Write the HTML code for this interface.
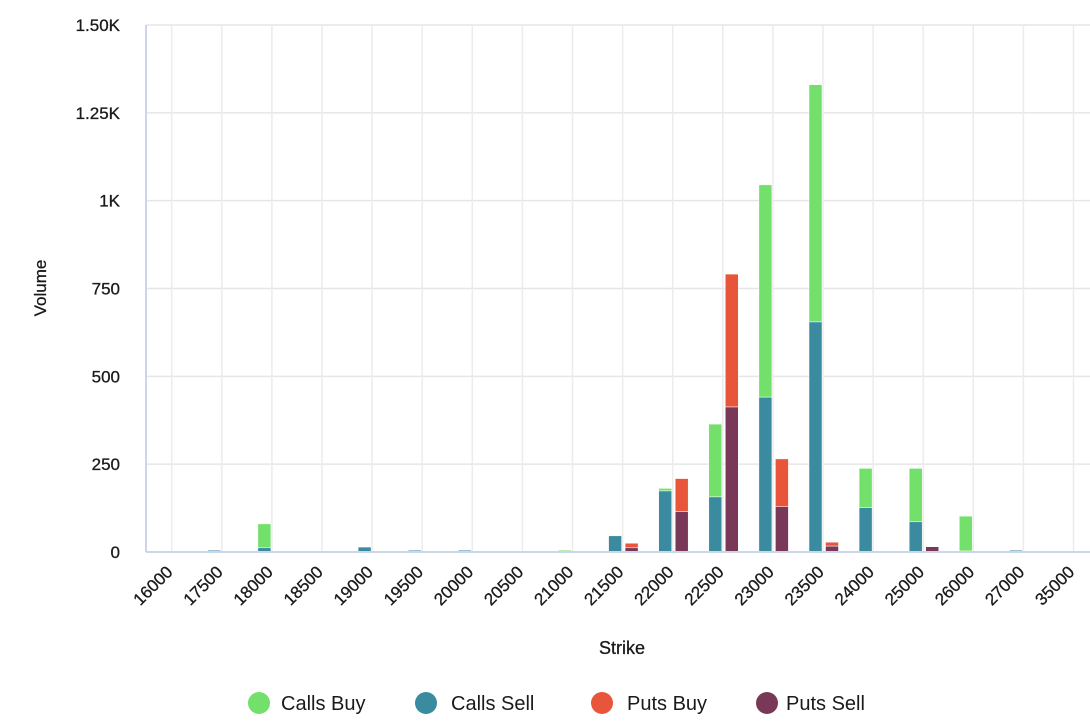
<!DOCTYPE html>
<html><head><meta charset="utf-8">
<style>
html,body{margin:0;padding:0;background:#fff;}
svg{display:block;font-family:"Liberation Sans",sans-serif;}
</style></head>
<body>
<svg id="chart" width="1090" height="721" viewBox="0 0 1090 721" xmlns="http://www.w3.org/2000/svg">
<g id="grid"></g>
<g id="bars"></g>
<g id="axes"></g>
<text transform="translate(46,288) rotate(-90)" text-anchor="middle" font-size="17" font-weight="500" fill="#1a1a1a" stroke="#1a1a1a" stroke-width="0.3">Volume</text>
<text x="622" y="654" text-anchor="middle" font-size="18" fill="#1a1a1a" stroke="#1a1a1a" stroke-width="0.3">Strike</text>
<g>
  <g><circle cx="259" cy="703" r="11" fill="#72e06a"/><text x="281" y="710" font-size="20" fill="#1a1a1a">Calls Buy</text></g>
  <g><circle cx="426" cy="703" r="11" fill="#3a8aa0"/><text x="451" y="710" font-size="20" fill="#1a1a1a">Calls Sell</text></g>
  <g><circle cx="602" cy="703" r="11" fill="#e8553a"/><text x="627" y="710" font-size="20" fill="#1a1a1a">Puts Buy</text></g>
  <g><circle cx="767" cy="703" r="11" fill="#7a3858"/><text x="786" y="710" font-size="20" fill="#1a1a1a">Puts Sell</text></g>
</g>
</svg>
<script>
const categories = ["16000","17500","18000","18500","19000","19500","20000","20500","21000","21500","22000","22500","23000","23500","24000","25000","26000","27000","35000"];
const callsBuy  = [0,0,68,0,0,0,0,0,5,0,7,207,604,675,112,152,99,0,0];
const callsSell = [1,5,12,0,14,5,5,0,0,46,174,157,441,655,126,86,3,5,0];
const putsBuy   = [0,0,0,0,0,0,0,0,0,13,94,378,136,11,0,0,0,0,0];
const putsSell  = [0,0,0,0,0,0,0,0,0,12,115,413,129,17,0,15,0,0,0];
const yTicks = [0,250,500,750,1000,1250,1500];
const yTickLabels = ["0","250","500","750","1K","1.25K","1.50K"];

const NS="http://www.w3.org/2000/svg";
const plotLeft=146, plotTop=25, plotBottom=552, yMax=1500;
const step=50.1, firstCenter=171.7;
function xCenter(i){return firstCenter+step*i;}
function y(v){return plotBottom-(v/yMax)*(plotBottom-plotTop);}
function mk(tag,attrs,parent){const e=document.createElementNS(NS,tag);for(const k in attrs)e.setAttribute(k,attrs[k]);parent.appendChild(e);return e;}
const grid=document.getElementById('grid'), bars=document.getElementById('bars'), axes=document.getElementById('axes');

yTicks.forEach((t,i)=>{
  const ln=mk('line',{x1:plotLeft,x2:1090,y1:y(t),y2:y(t),stroke:'#e6e6e6','stroke-width':1.5},grid);
  
  
  const tx=mk('text',{x:120,y:y(t)+6,'text-anchor':'end','font-size':17,fill:'#1a1a1a',stroke:'#1a1a1a','stroke-width':0.3},axes);
  tx.textContent=yTickLabels[i];
  
  
});
categories.forEach((c,i)=>{
  const cx=xCenter(i);
  const ln=mk('line',{x1:cx,x2:cx,y1:plotTop,y2:plotBottom,stroke:'#ececec','stroke-width':1.5},grid);
  
  
  const tx=mk('text',{'text-anchor':'end','font-size':17,fill:'#1a1a1a',stroke:'#1a1a1a','stroke-width':0.3,transform:`translate(${cx+2},${573}) rotate(-45)`},axes);
  tx.textContent=c;
  
  
});
mk('line',{x1:plotLeft,x2:plotLeft,y1:plotTop,y2:plotBottom,stroke:'#ccd6eb','stroke-width':2},axes);
mk('line',{x1:plotLeft,x2:1090,y1:plotBottom,y2:plotBottom,stroke:'#ccd6eb','stroke-width':2},axes);

function stack(arrLow,arrHigh,colLow,colHigh,offset,nameLow,nameHigh){
  categories.forEach((c,i)=>{
    const x=xCenter(i)+offset, w=13;
    const lo=arrLow[i], hi=arrHigh[i];
    if(lo>0){
      const r=mk('rect',{x:x,y:y(lo),width:w,height:y(0)-y(lo),fill:colLow,stroke:'#fff','stroke-width':0.5},bars);
      
      
    }
    if(hi>0){
      const r=mk('rect',{x:x,y:y(lo+hi),width:w,height:y(lo)-y(lo+hi),fill:colHigh,stroke:'#fff','stroke-width':0.5},bars);
      
      
    }
  });
}
stack(callsSell,callsBuy,'#3a8aa0','#72e06a',-14,'bar-calls-sell','bar-calls-buy');
stack(putsSell,putsBuy,'#7a3858','#e8553a',2.5,'bar-puts-sell','bar-puts-buy');
</script>
</body></html>
